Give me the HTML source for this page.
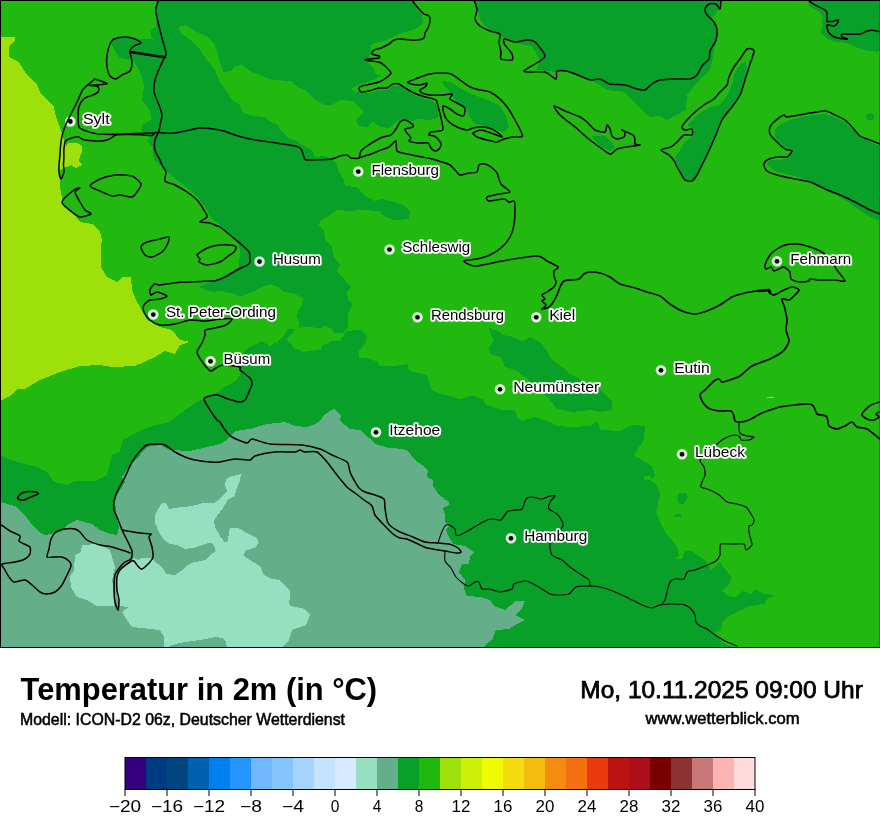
<!DOCTYPE html>
<html><head><meta charset="utf-8">
<style>
html,body{margin:0;padding:0;background:#fff;}
body{width:880px;height:830px;overflow:hidden;font-family:"Liberation Sans",sans-serif;}
svg{display:block;position:absolute;left:0;top:0;}
text{font-family:"Liberation Sans",sans-serif;}
</style></head><body>
<svg width="880" height="830" viewBox="0 0 880 830">
<defs><filter id="noop" x="0" y="0" width="880" height="830" filterUnits="userSpaceOnUse" color-interpolation-filters="sRGB"><feOffset dx="0" dy="0"/></filter><clipPath id="mapclip"><rect x="0" y="0" width="880" height="647"/></clipPath></defs>
<rect x="0" y="0" width="880" height="830" fill="#ffffff"/>
<g clip-path="url(#mapclip)" shape-rendering="crispEdges">
<rect x="0" y="0" width="880" height="647" fill="#21b90f"/>
<polygon points="156,0 412,0 416,8 422,15 423,22 419,27 410,31 399,34 391,38 381,42 373,43 370,46 372,51 369,57 368,63 373,67 376,74 381,76 375,79 365,83 355,86 351,89 354,92 359,92 369,93 379,90 387,90 393,86 399,86 405,90 414,95 422,98 430,100 436,103 438,110 438,118 430,120 418,119 412,121 401,120 395,122 389,128 381,127 373,122 367,127 358,126 350,140 337,165 339,172 344,180 345,186 356,187 365,196 375,201 382,199 395,202 405,206 410,212 409,219 395,220 385,217 380,211 360,210 350,211 337,210 327,217 320,221 319,226 324,230 325,240 332,247 334,257 340,265 337,272 345,280 351,287 347,292 348,299 353,304.5 348.4,313 348.4,333 340,345 280,350 277.5,344 278,342 285,334.5 287.7,329 298.6,328.4 299,322 296.6,316.8 298.6,310 302,307 302.7,298.4 294.5,293.6 284,292 278,287 270,284 262,287 252,292 240,297 235,294 222,291 212,292 199,287 200,286 222,277 239,267 240,250 237,240 227,232 220,225 212,219 207,210 200,200 190,190 180,182 170,175 162,165 160,165 154,160 152,147 147,142 150,136 142,132 142,125 151,120 150,110 142,100 144,87 142,76 137,66.4 133,60 131.5,56 131,53 131,49 136,45.5 141,42.7 140,39.5 153.6,39 151,36.4 151,30 155.5,27.3 156,25" fill="#08a028"/>
<polygon points="113.6,38.2 125.5,37.3 135.5,39 141,42.7 135.5,45.5 131,49 131,53.6 132.7,59 127.3,59 120,58.2 116.4,53.6 113.6,48.2 111,43.6 111.3,40" fill="#08a028"/>
<polygon points="179,27 185,25 197,32 207,37 215,45 220,62 223,72 232,71 235,66 242,65 252,72 265,77 272,80 292,81 297,87 307,91 315,100 325,105 332,105 340,100 352,101 360,107 364,112 356,119 358,126 367,127 366,140 350,172 337,165 332,160 325,156 315,157 312,150 302,145 297,141 290,139 282,132 277,124 270,122 265,117 252,116 242,112 240,105 232,100 227,92 220,82 215,70 207,60 200,50 190,40 180,32" fill="#21b90f"/>
<polygon points="280,349 346.4,331 360,329.8 366.8,335 366,342.7 358.6,351 359.3,357.7 365.5,357.7 377.7,361.8 380,366 395,366 407,364 410,371 427,375 432,390 440,394 450,396 460,399 472,395 484,400 485,404 502,410 515,410 517,417 522,421 536,417 550,422 557,426 572,427 590,426 597,421 601,430 620,431 632,425 645,426 644,440 637,450 634,455 642,460 652,466 655,475 650,480 657,485 660,495 656,512 660,522 665,532 672,540 677,547 679,555 675,559 682,559 685,551 692,551 700,557 706,561 711,570 720,562 725,569 731,577 730,584 722,590 727,596 737,597 742,591 752,594 755,589 765,594 775,595 767,599 765,604 756,605 747,607 737,612 727,617 722,622 721,630 715,632 720,640 727,645 735,647 0,647 0,455 10,460 25,464 37,467 47,472 54,482 67,485 75,481 95,481 107,475 112,455 120,452 122,441 132,435 142,430 155,425 170,422 185,410 197,402 204,399 218,392 224,387 231,384 237,380 240,375 240,365 245,350 252,346 262,341 270,346 276,342 279,347" fill="#08a028"/>
<polygon points="294.5,329 298.6,328.4 302.7,327 306.8,326.4 315,327.7 321.8,327.7 324.5,325.7 332,329 334,332.5 343.6,332.5 348.4,326.4 350,326 350,331 346.4,331 343.6,336 339.5,340.7 331.4,340.7 328.6,342.7 323,345.5 320.5,350 308,351 302.7,352.3 298.6,349.5 293,348 291.8,344 287.7,341.4 286.4,339.3 293,332.5" fill="#21b90f"/>
<polygon points="644,476 651,476 651,480 644,480" fill="#21b90f"/>
<polygon points="679,493 686,493 688,497 684,504 679,504 677,499" fill="#08a028"/>
<polygon points="675,514 681,514 681,517 675,517" fill="#08a028"/>
<polygon points="489,328 499,331 502,335 510,336 522,341 530,337 540,342 547,351 552,360 562,367 570,374 580,379 595,385 605,395 612,402 612,410 600,412 590,410 572,412 557,409 550,400 545,395 525,377 515,370 505,367 501,357 490,354 489,347 494,341 491,335" fill="#08a028"/>
<polygon points="475,0 481,22 492,32 502,37 520,44 532,46 540,60 537,70 557,72 570,71 580,77 595,82 607,90 625,92 632,100 642,110 650,117 660,116 667,120 675,116 686,110 687,95 695,85 702,77 710,70 712,62 714,50 717,40 715,25 712,18 720,8 721,0" fill="#08a028"/>
<polygon points="442,81 450,82 457,86 467,92 477,96 490,101 500,106 506,116 509,127 505,132 495,130 485,126 475,124 470,117 467,110 462,105 455,100 450,92 445,87" fill="#08a028"/>
<polygon points="592,136 605,136 612,142 615,147 610,151 602,147 595,141" fill="#08a028"/>
<polygon points="745,62 747,67 744,80 739,95 731,107 721,120 714,137 707,155 702,165 697,175 692,181 685,180 680,172 677,165 675,157 680,150 685,142 692,136 694,129 687,125 697,115 710,107 720,105 727,95 732,85 735,72 740,65" fill="#08a028"/>
<polygon points="779,125 790,120 805,116 825,114 835,117 845,122 852,130 860,137 870,142 880,146 880,221 870,217 855,207 840,197 825,190 810,181 795,176 777,172 767,165 770,160 782,160 790,157 792,151 782,145 775,137 775,130" fill="#08a028"/>
<polygon points="807.6,0 810,7 819.5,12 822.7,17.5 822,25.5 821,32 826,38 832.3,41.4 841.8,42 851.4,44.5 857.7,47.7 867.3,51 876.8,51.7 880,51 880,0" fill="#08a028"/>
<polygon points="866,115 871,113 875,116 873,120 867,120" fill="#08a028"/>
<polygon points="0,37 15,37 15,41 9,46 9,57 19,62 25,72 37,85 41,94 54,107 56,117 61,130 64,141 66.2,146 68.6,142.7 78.2,143.5 81.7,146 82.2,152.3 79.8,155.5 79,161.8 82,165 76,168 71,165 60,170 60,187 62,197 62,205 75,215 80,222 92,224 100,232 102,240 101,247 101,267 107,277 117,282 122,277 131,277 132,290 136,300 140,307 147,320 160,327 172,330 180,340 190,342 180,345 175,354 165,351 155,357 135,366 112,367 100,365 80,366 60,372 40,380 25,389 17,389 10,396 0,401" fill="#9de00a"/>
<rect x="767" y="396.5" width="7" height="1" fill="#9de00a"/>
<polygon points="0,502 15,506 25,515 30,522 39,532 45,535 60,532 67,525 77,520 92,524 100,530 110,534 117,535 119,527 117,520 116,510 115,502 117,495 125,482 122,477 130,465 140,455 147,447 160,445 170,450 190,451 220,444 227,440 235,431 250,429 267,424 285,422 295,426 307,427 315,424 320,421 325,414 334,409 341,415 340,421 350,429 360,430 366,436 370,438.5 375,444 387,447.5 397,448.5 407,450 415,460 422,465 428,470 427,477 433,480 433,486 439,495 449,502 449,505 443,508 445,515 445,522 449,526 446,530 449,537 453,544 465,546 474,552 470,557 469,564 462,564 459,572 465,580 464,589 467,596 480,597 490,600 494,606 505,610 511,605 515,601 525,601 521,610 515,615 525,620 517,624 509,629 496,630 492,640 485,645 484,647 0,647" fill="#64ae8a"/>
<polygon points="82,545 97,544 110,550 112,557 115,567 112,580 114,590 115,600 114,606 97,606 87,600 77,597 71,587 70,577 74,570 75,555 81,552" fill="#96dfc0"/>
<polygon points="241,474 240,481 236,490 235,496 227.5,500 222.5,509 217.5,515 214,521 215,527.5 220,536 225,542.5 227.5,541 230,527.5 237.5,527.5 246,532.5 256,537.5 259,542.5 255,547.5 245,551 244,556 250,560 260,566 264,575 272.5,579 280,580 285,586 290,591 290,597.5 289,602 290,606 305,609 310,615 306,625 292,630 289,640 282,647 227,647 226,642 222,638 215,637 200,640 185,642 172,645 168,647 164,647 164,637 160,630 150,629 132,627 127,620 122,612 129,607 119,606 117,595 117,580 119,570 132,562 134,557.5 137.5,560 142.5,557.5 150,557.5 156,562.5 162.5,567.5 166,574 175,575 182.5,570 187.5,565 192.5,562.5 205,560 210,555 216,551 214,545 210,542.5 202.5,545 195,547.5 185,549 177.5,545 170,544 164,540 159,532.5 155,522.5 155,515 157.5,510 162.5,502.5 166,502.5 169,509 177.5,507.5 192.5,506 205,502.5 215,502.5 220,499 227.5,491 225,486 226,479 232.5,476" fill="#96dfc0"/>
</g>
<circle cx="70.3" cy="121.5" r="5.3" fill="#fff" fill-opacity="0.84"/>
<circle cx="358.25" cy="171.55" r="5.3" fill="#fff" fill-opacity="0.84"/>
<circle cx="389.5" cy="249.55" r="5.3" fill="#fff" fill-opacity="0.84"/>
<circle cx="259.5" cy="261.55" r="5.3" fill="#fff" fill-opacity="0.84"/>
<circle cx="153.25" cy="314.55" r="5.3" fill="#fff" fill-opacity="0.84"/>
<circle cx="210.5" cy="361.3" r="5.3" fill="#fff" fill-opacity="0.84"/>
<circle cx="417.5" cy="317.3" r="5.3" fill="#fff" fill-opacity="0.84"/>
<circle cx="536.25" cy="317.3" r="5.3" fill="#fff" fill-opacity="0.84"/>
<circle cx="777" cy="261.3" r="5.3" fill="#fff" fill-opacity="0.84"/>
<circle cx="661" cy="370.3" r="5.3" fill="#fff" fill-opacity="0.84"/>
<circle cx="500" cy="389.3" r="5.3" fill="#fff" fill-opacity="0.84"/>
<circle cx="376" cy="432.3" r="5.3" fill="#fff" fill-opacity="0.84"/>
<circle cx="682" cy="454.3" r="5.3" fill="#fff" fill-opacity="0.84"/>
<circle cx="511" cy="538.3" r="5.3" fill="#fff" fill-opacity="0.84"/>
<g clip-path="url(#mapclip)" fill="none" stroke="#000" stroke-linejoin="round" stroke-linecap="round">
<path d="M114 39 C115.8 38.2 122.5 37.0 125 37 C127.5 37.0 133.1 38.3 135 39 C136.9 39.7 141.1 42.2 141 43 C140.9 43.8 135.3 45.0 134 46 C132.7 47.0 130.2 49.1 130 51 C129.8 52.9 132.0 59.6 132 62 C132.0 64.4 131.2 69.4 130 71 C128.8 72.6 123.7 74.0 122 75 C120.3 76.0 117.4 78.9 116 79 C114.6 79.1 111.1 77.4 110 76 C108.9 74.6 107.4 69.5 107 67 C106.6 64.5 106.6 57.8 107 55 C107.4 52.2 109.2 45.9 110 44 C110.8 42.1 112.2 39.8 114 39 Z" stroke-width="1.5"/>
<path d="M130.5 52 L165 57.2" stroke-width="2.5"/>
<path d="M158.7 0 C158.3 1.2 155.7 7.1 155.7 10 C155.7 12.9 157.7 20.4 158.5 24 C159.3 27.6 161.6 36.5 162.5 40 C163.4 43.5 165.8 50.9 166 53 C166.2 55.1 165.2 55.8 164.5 57.5 C163.8 59.2 161.1 64.3 160 67 C158.9 69.7 155.7 77.0 155 80 C154.3 83.0 153.5 89.0 154 92 C154.5 95.0 158.0 102.2 159 105 C160.0 107.8 161.9 112.6 162 115 C162.1 117.4 160.4 123.1 160 125 C159.6 126.9 159.6 129.2 159 131 C158.4 132.8 155.5 137.7 155 140 C154.5 142.3 154.4 147.6 155 150 C155.6 152.4 159.2 158.2 160 160 C160.8 161.8 161.3 163.6 162 165 C162.7 166.4 165.6 170.1 166 172 C166.4 173.9 163.9 179.4 165 181 C166.1 182.6 172.4 183.7 175 185 C177.6 186.3 184.4 190.2 187 192 C189.6 193.8 195.0 197.8 197 200 C199.0 202.2 202.8 208.0 204 210 C205.2 212.0 207.5 215.6 207 217 C206.5 218.4 199.6 221.3 200 222 C200.4 222.7 208.0 222.5 210 223 C212.0 223.5 215.8 225.5 217 226 C218.2 226.5 218.4 225.9 220 227 C221.6 228.1 227.4 232.8 230 235 C232.6 237.2 239.7 243.0 242 245 C244.3 247.0 248.0 250.3 249 252 C250.0 253.7 250.0 257.6 250 259 C250.0 260.4 250.4 262.7 249 264 C247.6 265.3 240.6 268.1 238 269.5 C235.4 270.9 229.6 274.7 227 276 C224.4 277.3 219.4 279.9 216.4 280.5 C213.4 281.1 206.2 281.2 201.8 281.4 C197.4 281.6 185.0 281.9 180 282.3 C175.0 282.7 163.1 284.8 160 285 C156.9 285.2 155.7 283.5 154.5 284 C153.3 284.5 150.4 288.2 150 289.5 C149.6 290.8 150.2 294.7 151 295 C151.8 295.3 155.1 291.9 157 292 C158.9 292.1 166.6 295.2 167 296 C167.4 296.8 162.0 298.5 160 299 C158.0 299.5 151.9 299.3 150 300 C148.1 300.7 144.7 303.6 144 305 C143.3 306.4 143.3 310.2 144 312 C144.7 313.8 148.1 318.4 150 320 C151.9 321.6 157.0 324.5 160 325 C163.0 325.5 171.4 324.6 175 324 C178.6 323.4 186.4 320.4 190 320 C193.6 319.6 201.4 321.1 205 321 C208.6 320.9 216.8 319.2 220 319 C223.2 318.8 231.3 318.3 232 319 C232.7 319.7 228.0 323.9 226 325 C224.0 326.1 217.5 327.4 215 328 C212.5 328.6 206.2 329.2 205 330 C203.8 330.8 205.4 333.4 205 335 C204.6 336.6 203.0 341.0 202 343 C201.0 345.0 197.1 350.0 197 352 C196.9 354.0 199.8 358.1 201 360 C202.2 361.9 205.8 366.7 207 368 C208.2 369.3 209.9 371.0 211 371 C212.1 371.0 214.6 368.7 216 368 C217.4 367.3 220.1 365.1 223 365 C225.9 364.9 238.0 366.4 240 367 C242.0 367.6 238.8 368.7 240 370 C241.2 371.3 248.6 376.3 250 378 C251.4 379.7 252.2 382.1 252 384 C251.8 385.9 248.8 392.1 248 394 C247.2 395.9 246.1 399.0 245 400 C243.9 401.0 241.0 402.1 239 402 C237.0 401.9 230.5 399.8 228 399 C225.5 398.2 220.2 395.4 218 395 C215.8 394.6 211.7 395.5 210 396 C208.3 396.5 204.0 397.3 204 399 C204.0 400.7 208.4 407.5 210 410 C211.6 412.5 215.8 418.6 217 420 C218.2 421.4 219.0 420.8 220 422 C221.0 423.2 223.6 428.2 225 430 C226.4 431.8 229.4 435.4 232 437 C234.6 438.6 244.6 442.8 247 443 C249.4 443.2 249.2 438.9 252 439 C254.8 439.1 264.0 443.3 270 444 C276.0 444.7 296.0 444.4 302 445 C308.0 445.6 316.4 447.8 320 449 C323.6 450.2 328.8 453.4 332 455 C335.2 456.6 344.8 460.0 347 462 C349.2 464.0 349.2 469.8 350 472 C350.8 474.2 352.9 478.1 354 480 C355.1 481.9 357.7 486.6 359 488 C360.3 489.4 363.1 491.2 365 492 C366.9 492.8 372.7 494.2 375 495 C377.3 495.8 382.8 497.4 384 499 C385.2 500.6 384.5 505.1 385 508 C385.5 510.9 386.4 520.2 388 523 C389.6 525.8 395.0 529.3 398 531 C401.0 532.7 409.8 535.7 413 537 C416.2 538.3 422.0 541.3 425 542 C428.0 542.7 435.1 542.8 438 543 C440.9 543.2 446.6 543.4 449 544 C451.4 544.6 456.6 547.0 458 548 C459.4 549.0 461.2 551.4 461 552 C460.8 552.6 457.9 553.1 456 553 C454.1 552.9 448.5 551.6 445 551 C441.5 550.4 430.2 548.8 427 548 C423.8 547.2 420.4 545.1 418 544 C415.6 542.9 409.2 539.7 407 539 C404.8 538.3 401.7 538.6 400 538 C398.3 537.4 394.9 535.6 393 534 C391.1 532.4 386.2 527.3 384 525 C381.8 522.7 376.4 517.3 375 515 C373.6 512.7 373.3 507.8 372 506 C370.7 504.2 366.0 501.6 364 500 C362.0 498.4 357.0 494.6 355 493 C353.0 491.4 349.2 489.2 347 487 C344.8 484.8 339.4 478.0 337 475 C334.6 472.0 329.4 464.8 327 462 C324.6 459.2 319.6 453.2 317 452 C314.4 450.8 307.0 452.2 305 452 C303.0 451.8 301.2 450.0 300 450 C298.8 450.0 298.0 451.8 295 452 C292.0 452.2 279.8 451.5 275 452 C270.2 452.5 258.0 455.0 255 456 C252.0 457.0 252.4 459.6 250 460 C247.6 460.4 238.6 458.8 235 459 C231.4 459.2 223.0 461.6 220 462 C217.0 462.4 213.0 462.2 210 462 C207.0 461.8 198.0 460.6 195 460 C192.0 459.4 187.4 458.0 185 457 C182.6 456.0 177.4 453.4 175 452 C172.6 450.6 167.2 446.0 165 445 C162.8 444.0 159.2 444.0 157 444 C154.8 444.0 149.0 444.2 147 445 C145.0 445.8 141.8 449.0 140 451 C138.2 453.0 133.8 458.9 132 462 C130.2 465.1 126.8 473.4 125 477 C123.2 480.6 118.3 489.0 117 492 C115.7 495.0 114.4 499.8 114 502 C113.6 504.2 113.6 508.2 114 510 C114.4 511.8 116.0 514.6 117 517 C118.0 519.4 120.8 527.2 122 530 C123.2 532.8 125.8 537.5 127 540 C128.2 542.5 131.5 548.7 132 551 C132.5 553.3 131.8 557.7 131 559 C130.2 560.3 126.3 561.0 125 562 C123.7 563.0 121.2 565.4 120 567 C118.8 568.6 115.7 572.2 115 575 C114.3 577.8 114.0 586.8 114 590 C114.0 593.2 114.5 599.6 115 602 C115.5 604.4 117.5 610.2 118 610 C118.5 609.8 119.1 602.4 119 600 C118.9 597.6 117.2 592.8 117 590 C116.8 587.2 116.6 579.4 117 577 C117.4 574.6 118.4 571.8 120 570 C121.6 568.2 128.3 563.1 130 562 C131.7 560.9 133.2 560.6 134 561 C134.8 561.4 136.0 564.0 137 565 C138.0 566.0 140.4 569.4 142 569 C143.6 568.6 148.7 563.4 150 562 C151.3 560.6 152.8 558.8 153 557 C153.2 555.2 152.5 549.4 152 547 C151.5 544.6 149.1 538.6 149 537 C148.9 535.4 152.1 534.5 151 534 C149.9 533.5 143.5 533.5 140 533 C136.5 532.5 124.2 530.4 122 530" stroke-width="1.5"/>
<path d="M157.7 132.4 C158.7 132.5 163.9 133.1 166 133.2 C168.1 133.3 170.9 133.6 175 133 C179.1 132.4 194.6 128.4 200 128 C205.4 127.6 215.8 129.2 220 130 C224.2 130.8 231.4 133.9 235 135 C238.6 136.1 245.8 138.2 250 139 C254.2 139.8 264.6 141.2 270 142 C275.4 142.8 291.3 145.2 295 146 C298.7 146.8 299.9 147.7 301 149 C302.1 150.3 303.3 155.7 304 157 C304.7 158.3 303.6 159.8 307 160 C310.4 160.2 328.0 159.5 332 159 C336.0 158.5 338.2 156.5 340 156 C341.8 155.5 345.7 154.8 347 155 C348.3 155.2 349.6 157.6 351 158 C352.4 158.4 357.8 158.8 359 158 C360.2 157.2 360.0 152.4 361 151 C362.0 149.6 365.3 147.2 367 146 C368.7 144.8 373.1 142.1 375 141 C376.9 139.9 381.1 137.7 383 137 C384.9 136.3 389.4 136.0 391 135 C392.6 134.0 394.9 130.6 396 129 C397.1 127.4 398.9 123.1 400 122 C401.1 120.9 403.6 119.8 405 120 C406.4 120.2 411.0 123.2 412 124 C413.0 124.8 413.8 126.4 413 127 C412.2 127.6 405.7 128.3 405 129 C404.3 129.7 406.3 131.9 407 133 C407.7 134.1 410.8 137.0 411 138 C411.2 139.0 408.2 140.4 409 141 C409.8 141.6 415.7 142.8 418 143 C420.3 143.2 426.4 142.4 428 143 C429.6 143.6 430.2 147.0 431 148 C431.8 149.0 434.0 150.9 435 151 C436.0 151.1 438.3 149.8 439 149 C439.7 148.2 441.1 145.2 441 144 C440.9 142.8 438.8 140.0 438 139 C437.2 138.0 435.1 136.5 434 136 C432.9 135.5 429.4 135.5 429 135 C428.6 134.5 429.7 132.5 431 132 C432.3 131.5 438.6 131.4 440 131 C441.4 130.6 442.9 130.6 443 129 C443.1 127.4 441.6 120.8 441 118 C440.4 115.2 438.6 108.2 438 106 C437.4 103.8 437.0 101.0 436 100 C435.0 99.0 431.7 98.5 430 98 C428.3 97.5 423.9 96.6 422 96 C420.1 95.4 416.0 94.0 414 93 C412.0 92.0 406.8 89.1 405 88 C403.2 86.9 400.4 84.5 399 84 C397.6 83.5 394.4 83.5 393 84 C391.6 84.5 388.7 87.5 387 88 C385.3 88.5 381.2 87.6 379 88 C376.8 88.4 371.2 90.5 369 91 C366.8 91.5 362.2 92.4 361 92 C359.8 91.6 358.9 88.7 359 88 C359.1 87.3 360.6 86.5 362 86 C363.4 85.5 369.0 84.5 371 84 C373.0 83.5 377.2 82.7 379 82 C380.8 81.3 384.6 79.1 386 78 C387.4 76.9 391.1 74.4 391 73 C390.9 71.6 386.4 67.3 385 66 C383.6 64.7 380.7 62.6 379 62 C377.3 61.4 372.7 61.2 371 61 C369.3 60.8 365.2 60.2 365 60 C364.8 59.8 367.3 59.2 369 59 C370.7 58.8 377.8 58.4 379 58 C380.2 57.6 379.8 56.5 379 56 C378.2 55.5 372.6 54.7 372 54 C371.4 53.3 372.9 50.7 374 50 C375.1 49.3 379.2 48.7 381 48 C382.8 47.3 387.4 45.0 389 44 C390.6 43.0 392.6 40.6 394 40 C395.4 39.4 399.1 39.0 401 39 C402.9 39.0 408.0 39.9 410 40 C412.0 40.1 416.3 40.2 418 40 C419.7 39.8 423.2 38.8 424 38 C424.8 37.2 424.5 34.2 425 33 C425.5 31.8 427.4 29.4 428 28 C428.6 26.6 429.9 22.4 430 21 C430.1 19.6 429.7 16.8 429 16 C428.3 15.2 425.3 15.0 424 14 C422.7 13.0 419.4 9.7 418 8 C416.6 6.3 412.7 1.0 412 0" stroke-width="1.5"/>
<path d="M359 158 C360.4 157.5 368.4 155.0 371 154 C373.6 153.0 378.8 150.8 381 150 C383.2 149.2 387.2 148.1 389 147 C390.8 145.9 395.0 140.5 396 141 C397.0 141.5 395.7 149.4 397 151 C398.3 152.6 404.0 153.3 407 154 C410.0 154.7 419.0 156.4 422 157 C425.0 157.6 429.6 158.4 432 159 C434.4 159.6 439.8 161.3 442 162 C444.2 162.7 448.3 163.9 450 165 C451.7 166.1 454.8 169.8 456 171 C457.2 172.2 458.4 174.8 460 175 C461.6 175.2 467.0 173.4 469 173 C471.0 172.6 475.8 173.0 477 172 C478.2 171.0 478.0 166.0 479 165 C480.0 164.0 483.6 163.8 485 164 C486.4 164.2 489.6 165.9 491 167 C492.4 168.1 495.8 171.0 497 173 C498.2 175.0 499.4 181.7 501 184 C502.6 186.3 510.2 190.8 510 192 C509.8 193.2 501.8 193.4 499 194 C496.2 194.6 488.2 196.2 487 197 C485.8 197.8 487.0 200.8 489 201 C491.0 201.2 501.6 198.9 504 199 C506.4 199.1 507.8 201.8 509 202 C510.2 202.2 513.3 200.5 514 201 C514.7 201.5 515.0 203.1 515 206 C515.0 208.9 514.6 221.3 514 225 C513.4 228.7 511.4 234.4 510 237 C508.6 239.6 504.4 244.8 502 247 C499.6 249.2 493.0 253.6 490 255 C487.0 256.4 480.1 258.3 477 259 C473.9 259.7 464.2 260.2 464 261 C463.8 261.8 470.4 266.0 475 266 C479.6 266.0 494.6 262.2 502 261 C509.4 259.8 531.6 256.0 537 256 C542.4 256.0 544.5 259.7 547 261 C549.5 262.3 557.2 265.8 558 267 C558.8 268.2 554.5 269.9 554 271 C553.5 272.1 553.8 274.7 554 276 C554.2 277.3 556.0 280.7 556 282 C556.0 283.3 555.1 285.8 554 287 C552.9 288.2 548.4 291.0 547 292 C545.6 293.0 542.2 294.2 542 295 C541.8 295.8 545.0 298.3 545 299 C545.0 299.7 541.9 300.3 542 301 C542.1 301.7 546.0 304.0 546 305 C546.0 306.0 542.5 308.5 542 309" stroke-width="1.5"/>
<path d="M542 309 C542.6 308.9 545.8 308.6 547 308 C548.2 307.4 550.8 305.6 552 304 C553.2 302.4 556.0 297.0 557 295 C558.0 293.0 559.2 288.7 560 287 C560.8 285.3 562.8 281.8 564 281 C565.2 280.2 568.2 280.2 570 280 C571.8 279.8 577.3 279.7 579 279 C580.7 278.3 582.7 274.8 584 274 C585.3 273.2 588.1 272.1 590 272 C591.9 271.9 597.6 272.4 600 273 C602.4 273.6 607.6 275.7 610 277 C612.4 278.3 617.0 282.7 620 284 C623.0 285.3 631.8 287.0 635 288 C638.2 289.0 644.0 291.0 647 292 C650.0 293.0 657.2 294.6 660 296 C662.8 297.4 667.4 302.2 670 304 C672.6 305.8 679.0 309.8 682 311 C685.0 312.2 692.0 314.0 695 314 C698.0 314.0 704.0 312.1 707 311 C710.0 309.9 717.0 306.7 720 305 C723.0 303.3 729.0 298.4 732 297 C735.0 295.6 742.0 293.7 745 293 C748.0 292.3 754.1 291.4 757 291 C759.9 290.6 767.4 289.8 769 290 C770.6 290.2 769.4 292.4 770 293 C770.6 293.6 772.6 295.2 774 295 C775.4 294.8 779.8 292.0 782 291 C784.2 290.0 790.0 287.1 792 287 C794.0 286.9 798.6 289.0 799 290 C799.4 291.0 796.2 293.8 795 295 C793.8 296.2 790.6 299.5 789 300 C787.4 300.5 782.5 297.9 782 299 C781.5 300.1 784.4 306.5 785 309 C785.6 311.5 786.9 317.5 787 320 C787.1 322.5 785.8 327.6 786 330 C786.2 332.4 788.9 338.1 789 340 C789.1 341.9 787.8 344.6 787 346 C786.2 347.4 784.0 350.4 782 352 C780.0 353.6 773.6 357.3 770 359 C766.4 360.7 755.6 364.0 752 366 C748.4 368.0 742.6 374.3 740 376 C737.4 377.7 732.2 379.3 730 380 C727.8 380.7 723.3 382.1 722 382 C720.7 381.9 720.0 379.1 719 379 C718.0 378.9 715.6 379.8 714 381 C712.4 382.2 707.7 387.3 706 389 C704.3 390.7 700.2 393.2 700 395 C699.8 396.8 702.8 402.3 704 404 C705.2 405.7 708.1 408.2 710 409 C711.9 409.8 717.5 410.8 720 411 C722.5 411.2 729.3 410.4 731 411 C732.7 411.6 733.5 414.8 734 416 C734.5 417.2 734.2 420.3 735 421 C735.8 421.7 739.3 422.1 741 422 C742.7 421.9 746.7 421.0 749 420 C751.3 419.0 757.5 415.2 760 414 C762.5 412.8 767.6 410.8 770 410 C772.4 409.2 777.0 407.6 780 407 C783.0 406.4 791.4 405.4 795 405 C798.6 404.6 807.7 403.8 810 404 C812.3 404.2 813.2 405.8 814 407 C814.8 408.2 815.6 412.9 817 414 C818.4 415.1 824.7 415.2 826 416 C827.3 416.8 827.6 419.8 828 421 C828.4 422.2 827.9 425.0 829 426 C830.1 427.0 835.1 429.0 837 429 C838.9 429.0 843.2 426.8 845 426 C846.8 425.2 850.6 421.9 852 422 C853.4 422.1 855.2 426.2 857 427 C858.8 427.8 864.8 428.0 867 429 C869.2 430.0 873.4 433.8 875 435 C876.6 436.2 879.4 438.5 880 439" stroke-width="1.65"/>
<path d="M758 291 L769 290 L770 293" stroke-width="2.6"/>
<path d="M94.9 79 C96.4 79.5 106.7 82.8 107 83.5 C107.3 84.2 99.1 84.8 97 85 C94.9 85.2 89.3 85.4 89.3 85.5 C89.3 85.6 96.1 85.7 97.3 86.2 C98.5 86.7 98.9 88.6 98.9 89.4 C98.9 90.2 98.1 91.9 97.3 92.6 C96.5 93.3 93.8 94.7 92.5 95.3 C91.2 95.9 87.4 96.6 86.1 97.4 C84.8 98.2 82.3 100.5 81.4 101.7 C80.5 102.9 79.1 106.0 78.7 107.7 C78.3 109.4 78.2 113.4 78.2 115.7 C78.2 118.0 77.9 124.9 79 126.8 C80.1 128.7 85.3 130.7 87.7 131.6 C90.1 132.5 95.5 133.7 98.9 134 C102.3 134.3 112.0 134.4 116.4 134.3 C120.8 134.2 131.3 133.7 135.5 133.5 C139.7 133.3 148.7 133.0 151.4 132.9 C154.1 132.8 156.9 132.5 157.7 132.4" stroke-width="1.5"/>
<path d="M94.9 79 C93.5 80.2 85.0 86.9 83 89.4 C81.0 91.9 79.5 97.0 78.2 99.8 C76.9 102.6 73.3 109.5 71.8 112.5 C70.3 115.5 66.6 122.5 65.5 125.2 C64.4 127.9 62.9 132.5 62.3 134.8 C61.7 137.1 61.0 141.8 60.7 144.3 C60.4 146.8 60.1 153.0 59.9 155.5 C59.7 158.0 59.1 163.0 59 165 C58.9 167.0 58.8 170.3 59 172 C59.2 173.7 60.4 179.0 61 179 C61.6 179.0 63.7 173.7 64 172 C64.3 170.3 63.5 166.8 63.5 165 C63.5 163.2 63.9 158.9 63.9 157 C63.9 155.1 63.7 150.9 63.9 149 C64.1 147.1 64.6 142.4 65.5 141.1 C66.4 139.8 70.3 138.5 71.8 138 C73.3 137.5 76.9 136.5 78.2 136.7 C79.5 136.9 81.3 139.0 83 139.5 C84.7 140.0 90.0 140.6 92.5 140.8 C95.0 141.0 101.5 141.1 103.6 140.8 C105.7 140.5 108.5 139.4 110 138.7 C111.5 138.0 114.1 135.3 116.4 134.8 C118.7 134.3 126.0 134.5 129 134.5 C132.0 134.5 139.1 134.7 141.8 134.8 C144.5 134.9 149.9 135.8 151.4 135.6 C152.9 135.4 154.1 133.8 154.5 133.5" stroke-width="1.5"/>
<path d="M90 186 C90.0 184.6 97.0 180.3 100 179 C103.0 177.7 111.2 175.4 115 175 C118.8 174.6 128.9 174.9 132 176 C135.1 177.1 140.4 182.1 141 184 C141.6 185.9 138.1 190.4 137 192 C135.9 193.6 134.0 196.6 132 197 C130.0 197.4 122.4 195.1 120 195 C117.6 194.9 114.4 196.5 112 196 C109.6 195.5 102.6 192.2 100 191 C97.4 189.8 90.0 187.4 90 186 Z" stroke-width="1.5"/>
<path d="M62 202 C62.2 199.4 71.8 191.7 74 190 C76.2 188.3 79.9 187.8 80 188 C80.1 188.2 75.0 190.3 75 192 C75.0 193.7 78.8 199.8 80 202 C81.2 204.2 83.7 208.6 85 210 C86.3 211.4 91.6 213.2 91 214 C90.4 214.8 82.3 217.2 80 217 C77.7 216.8 74.2 213.8 72 212 C69.8 210.2 61.8 204.6 62 202 Z" stroke-width="1.5"/>
<path d="M141 247 C141.2 245.4 144.7 243.0 147 242 C149.3 241.0 157.4 239.6 160 239 C162.6 238.4 168.2 236.3 169 237 C169.8 237.7 167.8 243.2 167 245 C166.2 246.8 163.8 250.6 162 252 C160.2 253.4 154.0 256.6 152 257 C150.0 257.4 146.3 256.2 145 255 C143.7 253.8 140.8 248.6 141 247 Z" stroke-width="1.5"/>
<path d="M220 245 C222.4 244.8 228.1 244.8 230 245 C231.9 245.2 235.5 246.2 236 247 C236.5 247.8 235.1 250.8 234 252 C232.9 253.2 228.7 255.8 227 257 C225.3 258.2 222.4 261.0 220 262 C217.6 263.0 209.5 265.0 207 265 C204.5 265.0 199.8 262.7 199 262 C198.2 261.3 200.2 259.8 200 259 C199.8 258.2 196.8 256.0 197 255 C197.2 254.0 200.4 252.0 202 251 C203.6 250.0 207.8 247.7 210 247 C212.2 246.3 217.6 245.2 220 245 Z" stroke-width="1.5"/>
<path d="M408 82 C408.8 81.3 415.4 79.0 418 78 C420.6 77.0 427.4 74.6 430 74 C432.6 73.4 437.5 73.0 440 73 C442.5 73.0 448.6 73.2 451 74 C453.4 74.8 457.7 78.4 460 80 C462.3 81.6 467.6 85.8 470 87 C472.4 88.2 477.6 89.4 480 90 C482.4 90.6 487.6 90.9 490 92 C492.4 93.1 497.9 97.1 500 99 C502.1 100.9 505.7 105.0 507.5 107.5 C509.3 110.0 513.2 116.6 515 120 C516.8 123.4 522.9 134.0 522.5 136 C522.1 138.0 514.2 136.6 512 137 C509.8 137.4 505.8 138.4 504 139 C502.2 139.6 499.0 141.9 497 142 C495.0 142.1 489.4 140.6 487 140 C484.6 139.4 478.7 137.8 477 137 C475.3 136.2 472.5 133.8 473 133 C473.5 132.2 478.8 130.0 481 130 C483.2 130.0 488.5 132.2 491 133 C493.5 133.8 501.3 137.1 502 137 C502.7 136.9 498.6 133.1 497 132 C495.4 130.9 490.9 128.6 489 128 C487.1 127.4 482.9 127.0 481 127 C479.1 127.0 474.7 127.6 473 128 C471.3 128.4 468.9 130.1 467 130 C465.1 129.9 459.3 128.1 457 127 C454.7 125.9 449.6 122.6 448 121 C446.4 119.4 444.6 115.8 444 114 C443.4 112.2 442.3 106.6 443 106 C443.7 105.4 448.3 108.0 450 109 C451.7 110.0 455.4 113.2 457 114 C458.6 114.8 462.0 116.4 463 116 C464.0 115.6 464.9 112.1 465 111 C465.1 109.9 465.0 108.0 464 107 C463.0 106.0 458.7 104.0 457 103 C455.3 102.0 450.6 100.1 450 99 C449.4 97.9 453.0 94.5 452 94 C451.0 93.5 444.6 94.9 442 95 C439.4 95.1 432.4 95.2 430 95 C427.6 94.8 423.2 93.6 422 93 C420.8 92.4 419.6 90.7 420 90 C420.4 89.3 424.2 87.8 425 87 C425.8 86.2 427.6 83.2 427 83 C426.4 82.8 421.9 84.9 420 85 C418.1 85.1 412.4 84.4 411 84 C409.6 83.6 407.2 82.7 408 82 Z" stroke-width="1.5"/>
<path d="M474 0 C474.4 1.2 476.9 7.7 477 10 C477.1 12.3 474.6 17.1 475 19 C475.4 20.9 478.2 24.6 480 26 C481.8 27.4 487.6 30.0 490 31 C492.4 32.0 498.9 32.7 500 34 C501.1 35.3 498.9 39.8 499 42 C499.1 44.2 500.8 50.0 501 52 C501.2 54.0 499.7 58.0 501 59 C502.3 60.0 510.7 60.6 512 60 C513.3 59.4 512.8 55.8 512 54 C511.2 52.2 506.0 46.8 505 45 C504.0 43.2 502.8 39.4 504 39 C505.2 38.6 512.2 41.9 515 42 C517.8 42.1 524.6 40.0 527 40 C529.4 40.0 532.8 40.1 535 42 C537.2 43.9 545.0 53.4 545 56 C545.0 58.6 537.5 62.2 535 64 C532.5 65.8 524.4 70.0 524 71 C523.6 72.0 529.5 71.9 532 72 C534.5 72.1 542.1 71.2 545 72 C547.9 72.8 554.6 79.1 556 79 C557.4 78.9 555.7 72.0 557 71 C558.3 70.0 564.2 70.4 567 71 C569.8 71.6 577.2 74.9 580 76 C582.8 77.1 587.6 79.6 590 80 C592.4 80.4 597.6 78.5 600 79 C602.4 79.5 607.0 83.3 610 84 C613.0 84.7 621.8 84.4 625 85 C628.2 85.6 634.6 88.4 637 89 C639.4 89.6 643.2 90.6 645 90 C646.8 89.4 650.2 85.2 652 84 C653.8 82.8 657.2 80.6 660 80 C662.8 79.4 671.4 79.1 675 79 C678.6 78.9 687.4 79.5 690 79 C692.6 78.5 695.6 76.6 697 75 C698.4 73.4 700.6 67.9 702 66 C703.4 64.1 708.0 60.8 709 59 C710.0 57.2 709.2 53.3 710 51 C710.8 48.7 715.2 42.5 716 40 C716.8 37.5 717.2 32.2 717 30 C716.8 27.8 715.2 23.8 714 22 C712.8 20.2 708.1 16.6 707 15 C705.9 13.4 704.8 10.3 705 9 C705.2 7.7 707.7 4.6 709 4 C710.3 3.4 714.7 3.4 716 4 C717.3 4.6 719.4 9.5 720 9 C720.6 8.5 720.9 1.1 721 0" stroke-width="1.5"/>
<path d="M554 106 C554.6 105.5 561.9 109.7 565 111 C568.1 112.3 577.4 115.7 580 117 C582.6 118.3 585.2 120.4 587 122 C588.8 123.6 592.8 128.8 595 130 C597.2 131.2 603.6 132.6 605 132 C606.4 131.4 606.4 125.4 607 125 C607.6 124.6 609.4 127.7 610 129 C610.6 130.3 611.2 134.8 612 136 C612.8 137.2 615.6 138.9 617 139 C618.4 139.1 623.0 137.8 624 137 C625.0 136.2 625.2 132.8 625 132 C624.8 131.2 620.9 129.5 622 130 C623.1 130.5 632.4 134.3 634 136 C635.6 137.7 634.3 142.9 635 144 C635.7 145.1 641.1 144.6 640 145 C638.9 145.4 628.8 146.5 626 147 C623.2 147.5 618.8 148.2 617 149 C615.2 149.8 612.4 153.8 611 154 C609.6 154.2 607.5 152.7 605 151 C602.5 149.3 593.6 142.9 590 140 C586.4 137.1 578.6 130.0 575 127 C571.4 124.0 562.5 117.5 560 115 C557.5 112.5 553.4 106.5 554 106 Z" stroke-width="1.5"/>
<path d="M747 49 C748.7 48.0 753.8 48.8 754 51 C754.2 53.2 750.1 63.5 749 67 C747.9 70.5 746.1 76.6 745 80 C743.9 83.4 741.6 91.8 740 95 C738.4 98.2 734.2 104.0 732 107 C729.8 110.0 724.0 116.4 722 120 C720.0 123.6 716.8 132.8 715 137 C713.2 141.2 708.6 151.6 707 155 C705.4 158.4 703.2 162.6 702 165 C700.8 167.4 698.2 173.1 697 175 C695.8 176.9 693.4 180.4 692 181 C690.6 181.6 686.4 181.1 685 180 C683.6 178.9 681.1 173.8 680 172 C678.9 170.2 676.6 166.2 676 165 C675.4 163.8 675.8 163.2 675 162 C674.2 160.8 670.7 156.4 669 155 C667.3 153.6 660.8 151.0 661 150 C661.2 149.0 669.1 148.0 671 147 C672.9 146.0 675.4 143.4 677 142 C678.6 140.6 682.2 135.8 684 135 C685.8 134.2 691.0 135.7 692 135 C693.0 134.3 692.8 129.6 692 129 C691.2 128.4 686.2 130.2 685 130 C683.8 129.8 681.8 128.2 682 127 C682.2 125.8 685.4 121.8 687 120 C688.6 118.2 693.0 113.8 695 112 C697.0 110.2 701.7 106.6 704 105 C706.3 103.4 712.1 100.6 714 99 C715.9 97.4 718.4 93.7 720 92 C721.6 90.3 725.9 86.8 727 85 C728.1 83.2 728.2 79.2 729 77 C729.8 74.8 732.7 69.2 734 67 C735.3 64.8 738.4 61.2 740 59 C741.6 56.8 745.3 50.0 747 49 Z" stroke-width="1.5"/>
<path d="M880 144 C878.8 143.5 872.4 141.0 870 140 C867.6 139.0 862.2 137.6 860 136 C857.8 134.4 853.8 128.9 852 127 C850.2 125.1 847.0 121.4 845 120 C843.0 118.6 837.4 116.1 835 115 C832.6 113.9 828.6 111.1 825 111 C821.4 110.9 809.6 113.3 805 114 C800.4 114.7 789.5 116.9 787 117 C784.5 117.1 785.4 114.5 784 115 C782.6 115.5 776.7 119.6 775 121 C773.3 122.4 770.6 125.4 770 127 C769.4 128.6 769.4 132.4 770 134 C770.6 135.6 773.2 138.2 775 140 C776.8 141.8 783.0 147.7 785 149 C787.0 150.3 791.8 150.0 792 151 C792.2 152.0 788.8 156.3 787 157 C785.2 157.7 779.4 156.6 777 157 C774.6 157.4 768.6 159.0 767 160 C765.4 161.0 764.0 163.7 764 165 C764.0 166.3 765.4 169.8 767 171 C768.6 172.2 773.6 174.0 777 175 C780.4 176.0 791.0 178.2 795 179 C799.0 179.8 806.4 180.8 810 182 C813.6 183.2 821.4 187.4 825 189 C828.6 190.6 836.4 193.4 840 195 C843.6 196.6 851.4 200.2 855 202 C858.6 203.8 867.0 208.6 870 210 C873.0 211.4 878.8 213.5 880 214" stroke-width="1.5"/>
<path d="M807.6 0 C808.0 0.3 813.9 4.3 814.8 4.8 C815.7 5.3 822.0 8.3 822.7 8.7 C823.4 9.1 826.4 11.5 826.7 12 C827.0 12.5 827.2 16.9 827.2 17.5 C827.2 18.1 826.4 21.3 826.7 21.5 C827.0 21.7 831.6 21.6 832.3 21.5 C833.0 21.4 838.3 19.8 838.6 19.9 C838.9 20.0 837.3 23.5 837 23.9 C836.7 24.3 834.5 26.2 833.9 26.2 C833.3 26.2 827.9 24.7 827.5 24.7 C827.1 24.7 826.7 25.8 826.7 26.2 C826.7 26.6 828.0 31.2 828.3 31.8 C828.6 32.4 831.7 35.4 832.3 35.8 C832.9 36.2 837.7 38.0 838.6 38.2 C839.5 38.4 847.2 39.1 847.4 39 C847.6 38.9 842.1 37.2 841.8 36.9 C841.5 36.6 841.2 34.4 841.8 34.2 C842.4 34.0 850.3 34.2 851.4 34.2 C852.5 34.2 859.9 33.9 860.9 33.7 C861.9 33.5 866.6 31.2 867.3 31 C868.0 30.8 871.4 30.2 872 30.2 C872.6 30.2 876.3 30.9 876.8 31 C877.3 31.1 879.8 31.8 880 31.8" stroke-width="1.5"/>
<path d="M765 265 C765.5 263.3 768.6 256.9 770 255 C771.4 253.1 775.2 250.2 777 249 C778.8 247.8 782.7 245.6 785 245 C787.3 244.4 793.4 243.9 796 244 C798.6 244.1 804.1 245.2 807 246 C809.9 246.8 817.2 249.4 820 251 C822.8 252.6 828.0 256.7 830 259 C832.0 261.3 835.2 267.4 837 270 C838.8 272.6 845.2 279.8 845 281 C844.8 282.2 838.0 280.1 835 280 C832.0 279.9 823.0 280.1 820 280 C817.0 279.9 811.3 278.9 810 279 C808.7 279.1 810.3 280.6 809 281 C807.7 281.4 801.2 282.2 799 282 C796.8 281.8 792.1 280.2 791 279 C789.9 277.8 790.8 273.4 790 272 C789.2 270.6 785.3 267.4 784 267 C782.7 266.6 780.2 268.5 779 269 C777.8 269.5 775.0 271.2 774 271 C773.0 270.8 772.0 267.2 771 267 C770.0 266.8 766.7 269.2 766 269 C765.3 268.8 764.5 266.7 765 265 Z" stroke-width="1.5"/>
<path d="M880 402 C878.9 402.4 872.8 404.0 871 405 C869.2 406.0 866.1 408.8 865 410 C863.9 411.2 861.8 413.9 862 415 C862.2 416.1 865.6 418.4 867 419 C868.4 419.6 872.6 420.2 874 420 C875.4 419.8 878.8 417.7 879 417 C879.2 416.3 875.9 414.7 876 414 C876.1 413.3 879.5 411.4 880 411" stroke-width="1.5"/>
<path d="M18 497 C18.4 496.2 20.7 493.7 22 493 C23.3 492.3 27.3 491.6 29 491.5 C30.7 491.4 34.9 491.7 36 492 C37.1 492.3 38.6 493.4 38 494 C37.4 494.6 32.7 496.3 31 497 C29.3 497.7 25.4 499.7 24 500 C22.6 500.3 19.7 499.9 19 499.5 C18.3 499.1 17.6 497.8 18 497 Z" stroke-width="1.5"/>
<path d="M0 524 C1.2 524.8 7.6 529.6 10 531 C12.4 532.4 18.9 534.8 20 536 C21.1 537.2 18.5 540.0 19 541 C19.5 542.0 22.7 543.3 24 544 C25.3 544.7 29.3 545.8 30 547 C30.7 548.2 30.6 552.6 30 554 C29.4 555.4 26.8 558.0 25 559 C23.2 560.0 17.8 561.4 15 562 C12.2 562.6 3.2 563.0 2 564 C0.8 565.0 4.2 568.4 5 570 C5.8 571.6 7.9 575.6 9 577 C10.1 578.4 12.1 581.6 14 582 C15.9 582.4 22.8 579.6 25 580 C27.2 580.4 30.2 583.6 32 585 C33.8 586.4 38.3 590.9 40 592 C41.7 593.1 44.2 594.0 46 594 C47.8 594.0 53.1 593.1 55 592 C56.9 590.9 60.6 587.0 62 585 C63.4 583.0 65.9 577.3 67 575 C68.1 572.7 70.8 567.7 71 566 C71.2 564.3 70.1 562.1 69 561 C67.9 559.9 63.8 557.5 62 557 C60.2 556.5 55.8 557.0 54 557 C52.2 557.0 47.6 558.0 47 557 C46.4 556.0 48.5 551.2 49 549 C49.5 546.8 50.2 541.0 51 539 C51.8 537.0 54.3 533.2 56 532 C57.7 530.8 62.7 529.4 65 529 C67.3 528.6 73.2 528.6 75 529 C76.8 529.4 78.6 530.7 80 532 C81.4 533.3 84.6 538.4 87 540 C89.4 541.6 97.0 544.2 100 545 C103.0 545.8 109.0 546.3 112 547 C115.0 547.7 122.8 550.3 125 551 C127.2 551.7 129.4 552.8 130 553" stroke-width="1.5"/>
<path d="M438 543 C438.4 541.9 440.2 536.0 441 534 C441.8 532.0 444.0 527.1 445 526 C446.0 524.9 447.8 524.6 449 525 C450.2 525.4 454.2 527.8 455 529 C455.8 530.2 455.4 534.3 456 535 C456.6 535.7 458.2 535.7 460 535 C461.8 534.3 468.0 530.7 471 529 C474.0 527.3 482.4 522.2 485 521 C487.6 519.8 491.1 519.1 493 519 C494.9 518.9 499.3 520.8 501 520 C502.7 519.2 505.3 513.2 507 512 C508.7 510.8 513.2 510.4 515 510 C516.8 509.6 520.7 510.3 522 509 C523.3 507.7 524.8 500.4 526 499 C527.2 497.6 530.1 497.0 532 497 C533.9 497.0 539.8 499.1 542 499 C544.2 498.9 548.4 496.4 550 496 C551.6 495.6 555.0 495.3 555 496 C555.0 496.7 550.7 500.4 550 502 C549.3 503.6 548.2 507.6 549 509 C549.8 510.4 555.4 512.6 557 514 C558.6 515.4 561.3 519.6 562 521 C562.7 522.4 563.7 524.3 563 526 C562.3 527.7 557.6 532.8 556 535 C554.4 537.2 550.5 541.6 550 544 C549.5 546.4 550.6 553.1 552 555 C553.4 556.9 559.8 558.6 562 560 C564.2 561.4 567.8 565.3 570 567 C572.2 568.7 577.7 572.4 580 574 C582.3 575.6 587.8 578.6 589 580 C590.2 581.4 589.9 585.3 590 586" stroke-width="1.1"/>
<path d="M445 552 C445.0 553.1 444.3 559.1 445 561 C445.7 562.9 449.7 566.1 451 568 C452.3 569.9 454.4 575.1 456 577 C457.6 578.9 462.4 582.9 464 584 C465.6 585.1 467.7 586.2 469 586 C470.3 585.8 473.8 582.5 475 582 C476.2 581.5 478.2 581.2 479 582 C479.8 582.8 480.7 588.2 482 589 C483.3 589.8 487.8 588.6 490 589 C492.2 589.4 497.4 592.0 500 592 C502.6 592.0 510.3 590.0 512 589 C513.7 588.0 512.3 585.0 514 584 C515.7 583.0 523.2 580.8 526 581 C528.8 581.2 534.1 584.4 537 586 C539.9 587.6 547.6 592.9 550 594 C552.4 595.1 554.7 595.0 557 595 C559.3 595.0 566.7 595.0 569 594 C571.3 593.0 573.5 588.0 576 587 C578.5 586.0 587.1 586.0 590 586 C592.9 586.0 597.0 586.3 600 587 C603.0 587.7 611.4 590.6 615 592 C618.6 593.4 626.8 597.4 630 599 C633.2 600.6 639.4 603.9 642 605 C644.6 606.1 649.8 608.0 652 608 C654.2 608.0 657.2 605.5 660 605 C662.8 604.5 672.0 604.0 675 604 C678.0 604.0 683.1 604.4 685 605 C686.9 605.6 689.8 607.8 691 609 C692.2 610.2 694.4 613.4 695 615 C695.6 616.6 695.4 620.7 696 622 C696.6 623.3 698.7 625.2 700 626 C701.3 626.8 705.2 627.9 707 629 C708.8 630.1 712.8 633.6 715 635 C717.2 636.4 722.4 639.7 725 641 C727.6 642.3 735.6 645.4 737 646" stroke-width="1.1"/>
<path d="M739 422 C739.0 423.0 738.8 428.6 739 430 C739.2 431.4 740.0 433.3 741 434 C742.0 434.7 745.4 435.6 747 436 C748.6 436.4 753.8 436.5 754 437 C754.2 437.5 750.6 439.6 749 440 C747.4 440.4 742.1 440.4 741 440 C739.9 439.6 740.6 437.6 740 437 C739.4 436.4 737.2 435.1 736 435 C734.8 434.9 731.7 435.4 730 436 C728.3 436.6 723.7 438.9 722 440 C720.3 441.1 717.7 443.6 716 445 C714.3 446.4 709.9 450.2 708 452 C706.1 453.8 700.5 458.2 700 460 C699.5 461.8 703.4 465.2 704 467 C704.6 468.8 705.2 473.2 705 475 C704.8 476.8 702.5 480.6 702 482 C701.5 483.4 700.0 486.0 701 487 C702.0 488.0 707.8 489.0 710 490 C712.2 491.0 717.0 493.6 719 495 C721.0 496.4 724.8 500.9 727 502 C729.2 503.1 734.7 503.4 737 504 C739.3 504.6 744.3 505.8 746 507 C747.7 508.2 750.0 512.4 751 514 C752.0 515.6 753.9 518.7 754 520 C754.1 521.3 752.6 524.3 752 525 C751.4 525.7 749.4 525.2 749 526 C748.6 526.8 748.8 530.3 749 532 C749.2 533.7 750.6 538.4 751 540 C751.4 541.6 752.6 543.8 752 545 C751.4 546.2 747.0 550.1 746 550 C745.0 549.9 745.7 544.7 744 544 C742.3 543.3 734.8 544.0 732 544 C729.2 544.0 722.4 543.4 721 544 C719.6 544.6 720.1 547.7 720 549 C719.9 550.3 720.5 553.6 720 555 C719.5 556.4 717.8 559.7 716 561 C714.2 562.3 707.5 564.9 705 566 C702.5 567.1 697.2 569.3 695 570 C692.8 570.7 688.3 570.9 687 572 C685.7 573.1 685.4 578.2 684 579 C682.6 579.8 676.7 578.6 675 579 C673.3 579.4 671.0 580.4 670 582 C669.0 583.6 667.6 589.8 667 592 C666.4 594.2 665.7 598.4 665 600 C664.3 601.6 661.5 604.4 661 605" stroke-width="1.1"/>
</g>
<g shape-rendering="crispEdges"><rect x="0" y="0" width="880" height="1" fill="#000"/><rect x="0" y="0" width="1" height="648" fill="#000"/><rect x="0" y="647" width="880" height="1" fill="#000"/><rect x="879" y="0" width="1" height="648" fill="#000" fill-opacity="0.25"/></g>
<g filter="url(#noop)">
<circle cx="70.3" cy="121.5" r="2.4" fill="#000"/>
<text x="82.9" y="123.9" font-size="15" textLength="26.7" lengthAdjust="spacingAndGlyphs" fill="#000" stroke="#fff" stroke-width="3.6" stroke-linejoin="round" paint-order="stroke" style="paint-order:stroke fill">Sylt</text>
<circle cx="358.25" cy="171.55" r="2.4" fill="#000"/>
<text x="371.45" y="174.6" font-size="15" textLength="67.5" lengthAdjust="spacingAndGlyphs" fill="#000" stroke="#fff" stroke-width="3.6" stroke-linejoin="round" paint-order="stroke" style="paint-order:stroke fill">Flensburg</text>
<circle cx="389.5" cy="249.55" r="2.4" fill="#000"/>
<text x="402.2" y="252.1" font-size="15" textLength="68" lengthAdjust="spacingAndGlyphs" fill="#000" stroke="#fff" stroke-width="3.6" stroke-linejoin="round" paint-order="stroke" style="paint-order:stroke fill">Schleswig</text>
<circle cx="259.5" cy="261.55" r="2.4" fill="#000"/>
<text x="272.95" y="264.1" font-size="15" textLength="47.75" lengthAdjust="spacingAndGlyphs" fill="#000" stroke="#fff" stroke-width="3.6" stroke-linejoin="round" paint-order="stroke" style="paint-order:stroke fill">Husum</text>
<circle cx="153.25" cy="314.55" r="2.4" fill="#000"/>
<text x="165.95" y="317.1" font-size="15" textLength="110" lengthAdjust="spacingAndGlyphs" fill="#000" stroke="#fff" stroke-width="3.6" stroke-linejoin="round" paint-order="stroke" style="paint-order:stroke fill">St. Peter-Ording</text>
<circle cx="210.5" cy="361.3" r="2.4" fill="#000"/>
<text x="223.45" y="363.6" font-size="15" textLength="46.75" lengthAdjust="spacingAndGlyphs" fill="#000" stroke="#fff" stroke-width="3.6" stroke-linejoin="round" paint-order="stroke" style="paint-order:stroke fill">Büsum</text>
<circle cx="417.5" cy="317.3" r="2.4" fill="#000"/>
<text x="430.95" y="320.1" font-size="15" textLength="73" lengthAdjust="spacingAndGlyphs" fill="#000" stroke="#fff" stroke-width="3.6" stroke-linejoin="round" paint-order="stroke" style="paint-order:stroke fill">Rendsburg</text>
<circle cx="536.25" cy="317.3" r="2.4" fill="#000"/>
<text x="549.2" y="320.1" font-size="15" textLength="26" lengthAdjust="spacingAndGlyphs" fill="#000" stroke="#fff" stroke-width="3.6" stroke-linejoin="round" paint-order="stroke" style="paint-order:stroke fill">Kiel</text>
<circle cx="777" cy="261.3" r="2.4" fill="#000"/>
<text x="790.2" y="264.1" font-size="15" textLength="61" lengthAdjust="spacingAndGlyphs" fill="#000" stroke="#fff" stroke-width="3.6" stroke-linejoin="round" paint-order="stroke" style="paint-order:stroke fill">Fehmarn</text>
<circle cx="661" cy="370.3" r="2.4" fill="#000"/>
<text x="674.2" y="373.1" font-size="15" textLength="35.5" lengthAdjust="spacingAndGlyphs" fill="#000" stroke="#fff" stroke-width="3.6" stroke-linejoin="round" paint-order="stroke" style="paint-order:stroke fill">Eutin</text>
<circle cx="500" cy="389.3" r="2.4" fill="#000"/>
<text x="513.2" y="392.1" font-size="15" textLength="86" lengthAdjust="spacingAndGlyphs" fill="#000" stroke="#fff" stroke-width="3.6" stroke-linejoin="round" paint-order="stroke" style="paint-order:stroke fill">Neumünster</text>
<circle cx="376" cy="432.3" r="2.4" fill="#000"/>
<text x="389.2" y="435.1" font-size="15" textLength="51" lengthAdjust="spacingAndGlyphs" fill="#000" stroke="#fff" stroke-width="3.6" stroke-linejoin="round" paint-order="stroke" style="paint-order:stroke fill">Itzehoe</text>
<circle cx="682" cy="454.3" r="2.4" fill="#000"/>
<text x="695" y="457.1" font-size="15" textLength="49.9" lengthAdjust="spacingAndGlyphs" fill="#000" stroke="#fff" stroke-width="3.6" stroke-linejoin="round" paint-order="stroke" style="paint-order:stroke fill">Lübeck</text>
<circle cx="511" cy="538.3" r="2.4" fill="#000"/>
<text x="524.2" y="541.1" font-size="15" textLength="63" lengthAdjust="spacingAndGlyphs" fill="#000" stroke="#fff" stroke-width="3.6" stroke-linejoin="round" paint-order="stroke" style="paint-order:stroke fill">Hamburg</text>
</g>
<g filter="url(#noop)">
<text x="20.6" y="700" font-size="31" font-weight="700" textLength="356.5" lengthAdjust="spacingAndGlyphs" fill="#000">Temperatur in 2m (in °C)</text>
<text x="20" y="724.6" font-size="16.4" textLength="325" lengthAdjust="spacingAndGlyphs" fill="#000" stroke="#000" stroke-width="0.55">Modell: ICON-D2 06z, Deutscher Wetterdienst</text>
<text x="580.3" y="697.5" font-size="23.7" textLength="282.5" lengthAdjust="spacingAndGlyphs" fill="#000" stroke="#000" stroke-width="0.75">Mo, 10.11.2025 09:00 Uhr</text>
<text x="645.6" y="724.3" font-size="16.4" textLength="154" lengthAdjust="spacingAndGlyphs" fill="#000" stroke="#000" stroke-width="0.55">www.wetterblick.com</text>
<g shape-rendering="crispEdges">
<rect x="125" y="757" width="21" height="32.5" fill="#35007f"/>
<rect x="146" y="757" width="21" height="32.5" fill="#003a80"/>
<rect x="167" y="757" width="21" height="32.5" fill="#004580"/>
<rect x="188" y="757" width="21" height="32.5" fill="#0060b0"/>
<rect x="209" y="757" width="21" height="32.5" fill="#0080f0"/>
<rect x="230" y="757" width="21" height="32.5" fill="#2596ff"/>
<rect x="251" y="757" width="21" height="32.5" fill="#70b8ff"/>
<rect x="272" y="757" width="21" height="32.5" fill="#85c4ff"/>
<rect x="293" y="757" width="21" height="32.5" fill="#a5d5ff"/>
<rect x="314" y="757" width="21" height="32.5" fill="#c5e2ff"/>
<rect x="335" y="757" width="21" height="32.5" fill="#d8eaff"/>
<rect x="356" y="757" width="21" height="32.5" fill="#96dfc0"/>
<rect x="377" y="757" width="21" height="32.5" fill="#64ae8a"/>
<rect x="398" y="757" width="21" height="32.5" fill="#08a028"/>
<rect x="419" y="757" width="21" height="32.5" fill="#21b90f"/>
<rect x="440" y="757" width="21" height="32.5" fill="#9de00a"/>
<rect x="461" y="757" width="21" height="32.5" fill="#ccf008"/>
<rect x="482" y="757" width="21" height="32.5" fill="#f0fa05"/>
<rect x="503" y="757" width="21" height="32.5" fill="#f5dc10"/>
<rect x="524" y="757" width="21" height="32.5" fill="#f5bc10"/>
<rect x="545" y="757" width="21" height="32.5" fill="#f58c10"/>
<rect x="566" y="757" width="21" height="32.5" fill="#f57010"/>
<rect x="587" y="757" width="21" height="32.5" fill="#e83a0c"/>
<rect x="608" y="757" width="21" height="32.5" fill="#bb1212"/>
<rect x="629" y="757" width="21" height="32.5" fill="#ad0f1a"/>
<rect x="650" y="757" width="21" height="32.5" fill="#780000"/>
<rect x="671" y="757" width="21" height="32.5" fill="#8c3232"/>
<rect x="692" y="757" width="21" height="32.5" fill="#c87878"/>
<rect x="713" y="757" width="21" height="32.5" fill="#ffb4b4"/>
<rect x="734" y="757" width="21" height="32.5" fill="#ffdcdc"/>
</g>
<rect x="125" y="757.5" width="630" height="32" fill="none" stroke="#000" stroke-width="1"/>
<rect x="124.5" y="789.5" width="1" height="6.5" fill="#000"/>
<text x="108.9" y="812" font-size="16" textLength="32.2" lengthAdjust="spacingAndGlyphs" fill="#000">−20</text>
<rect x="166.5" y="789.5" width="1" height="6.5" fill="#000"/>
<text x="150.9" y="812" font-size="16" textLength="32.2" lengthAdjust="spacingAndGlyphs" fill="#000">−16</text>
<rect x="208.5" y="789.5" width="1" height="6.5" fill="#000"/>
<text x="192.9" y="812" font-size="16" textLength="32.2" lengthAdjust="spacingAndGlyphs" fill="#000">−12</text>
<rect x="250.5" y="789.5" width="1" height="6.5" fill="#000"/>
<text x="240" y="812" font-size="16" textLength="22" lengthAdjust="spacingAndGlyphs" fill="#000">−8</text>
<rect x="292.5" y="789.5" width="1" height="6.5" fill="#000"/>
<text x="282" y="812" font-size="16" textLength="22" lengthAdjust="spacingAndGlyphs" fill="#000">−4</text>
<rect x="334.5" y="789.5" width="1" height="6.5" fill="#000"/>
<text x="330.7" y="812" font-size="16" textLength="8.6" lengthAdjust="spacingAndGlyphs" fill="#000">0</text>
<rect x="376.5" y="789.5" width="1" height="6.5" fill="#000"/>
<text x="372.7" y="812" font-size="16" textLength="8.6" lengthAdjust="spacingAndGlyphs" fill="#000">4</text>
<rect x="418.5" y="789.5" width="1" height="6.5" fill="#000"/>
<text x="414.7" y="812" font-size="16" textLength="8.6" lengthAdjust="spacingAndGlyphs" fill="#000">8</text>
<rect x="460.5" y="789.5" width="1" height="6.5" fill="#000"/>
<text x="451.6" y="812" font-size="16" textLength="18.8" lengthAdjust="spacingAndGlyphs" fill="#000">12</text>
<rect x="502.5" y="789.5" width="1" height="6.5" fill="#000"/>
<text x="493.6" y="812" font-size="16" textLength="18.8" lengthAdjust="spacingAndGlyphs" fill="#000">16</text>
<rect x="544.5" y="789.5" width="1" height="6.5" fill="#000"/>
<text x="535.6" y="812" font-size="16" textLength="18.8" lengthAdjust="spacingAndGlyphs" fill="#000">20</text>
<rect x="586.5" y="789.5" width="1" height="6.5" fill="#000"/>
<text x="577.6" y="812" font-size="16" textLength="18.8" lengthAdjust="spacingAndGlyphs" fill="#000">24</text>
<rect x="628.5" y="789.5" width="1" height="6.5" fill="#000"/>
<text x="619.6" y="812" font-size="16" textLength="18.8" lengthAdjust="spacingAndGlyphs" fill="#000">28</text>
<rect x="670.5" y="789.5" width="1" height="6.5" fill="#000"/>
<text x="661.6" y="812" font-size="16" textLength="18.8" lengthAdjust="spacingAndGlyphs" fill="#000">32</text>
<rect x="712.5" y="789.5" width="1" height="6.5" fill="#000"/>
<text x="703.6" y="812" font-size="16" textLength="18.8" lengthAdjust="spacingAndGlyphs" fill="#000">36</text>
<rect x="754.5" y="789.5" width="1" height="6.5" fill="#000"/>
<text x="745.6" y="812" font-size="16" textLength="18.8" lengthAdjust="spacingAndGlyphs" fill="#000">40</text>
</g>
</svg>
</body></html>
